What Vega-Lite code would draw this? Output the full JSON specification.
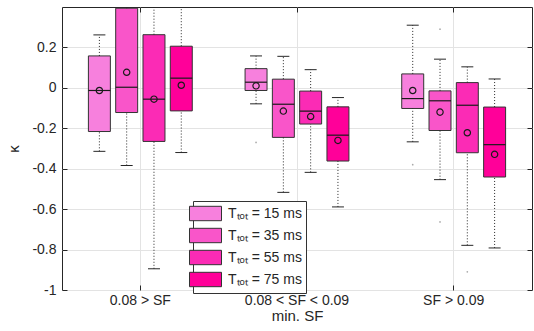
{
  "$schema": "https://vega.github.io/schema/vega-lite/v6.json",
  "autosize": "none",
  "width": 470,
  "height": 283,
  "padding": {"left": 62, "top": 7, "right": 2, "bottom": 41},
  "datasets": {
    "boxes": [
      {"sf": "0.08 > SF", "T": "Tₜₒₜ = 15 ms", "lo": -0.314, "q1": -0.216, "med": -0.013, "q3": 0.158, "hi": 0.262, "mean": -0.013},
      {"sf": "0.08 > SF", "T": "Tₜₒₜ = 35 ms", "lo": -0.384, "q1": -0.122, "med": 0.003, "q3": 0.394, "hi": 0.45, "mean": 0.077},
      {"sf": "0.08 > SF", "T": "Tₜₒₜ = 55 ms", "lo": -0.895, "q1": -0.265, "med": -0.056, "q3": 0.263, "hi": 0.45, "mean": -0.056},
      {"sf": "0.08 > SF", "T": "Tₜₒₜ = 75 ms", "lo": -0.32, "q1": -0.114, "med": 0.048, "q3": 0.206, "hi": 0.45, "mean": 0.013},
      {"sf": "0.08 < SF < 0.09", "T": "Tₜₒₜ = 15 ms", "lo": -0.079, "q1": -0.013, "med": 0.028, "q3": 0.095, "hi": 0.158, "mean": 0.01},
      {"sf": "0.08 < SF < 0.09", "T": "Tₜₒₜ = 35 ms", "lo": -0.517, "q1": -0.245, "med": -0.081, "q3": 0.043, "hi": 0.156, "mean": -0.115},
      {"sf": "0.08 < SF < 0.09", "T": "Tₜₒₜ = 55 ms", "lo": -0.418, "q1": -0.179, "med": -0.115, "q3": -0.016, "hi": 0.09, "mean": -0.142},
      {"sf": "0.08 < SF < 0.09", "T": "Tₜₒₜ = 75 ms", "lo": -0.589, "q1": -0.362, "med": -0.234, "q3": -0.094, "hi": -0.048, "mean": -0.26},
      {"sf": "SF > 0.09", "T": "Tₜₒₜ = 15 ms", "lo": -0.267, "q1": -0.102, "med": -0.053, "q3": 0.069, "hi": 0.31, "mean": -0.013},
      {"sf": "SF > 0.09", "T": "Tₜₒₜ = 35 ms", "lo": -0.454, "q1": -0.211, "med": -0.064, "q3": -0.015, "hi": 0.142, "mean": -0.12},
      {"sf": "SF > 0.09", "T": "Tₜₒₜ = 55 ms", "lo": -0.779, "q1": -0.321, "med": -0.086, "q3": 0.026, "hi": 0.104, "mean": -0.222},
      {"sf": "SF > 0.09", "T": "Tₜₒₜ = 75 ms", "lo": -0.792, "q1": -0.441, "med": -0.281, "q3": -0.095, "hi": 0.044, "mean": -0.329}
    ],
    "outliers": [
      {"sf": "0.08 < SF < 0.09", "T": "Tₜₒₜ = 15 ms", "v": -0.27},
      {"sf": "SF > 0.09", "T": "Tₜₒₜ = 15 ms", "v": -0.38},
      {"sf": "SF > 0.09", "T": "Tₜₒₜ = 35 ms", "v": 0.29},
      {"sf": "SF > 0.09", "T": "Tₜₒₜ = 35 ms", "v": -0.663},
      {"sf": "SF > 0.09", "T": "Tₜₒₜ = 55 ms", "v": -0.91}
    ]
  },
  "config": {
    "font": "Liberation Sans",
    "view": {"stroke": "#262626", "strokeWidth": 1},
    "axis": {
      "domain": false,
      "labelColor": "#262626",
      "titleColor": "#262626",
      "tickColor": "#262626",
      "gridColor": "#e3e3e3",
      "labelFontSize": 14,
      "titleFontSize": 15,
      "titleFontWeight": "normal"
    },
    "legend": {
      "strokeColor": "#333333",
      "fillColor": "white",
      "padding": 4,
      "symbolType": "M-2,-0.9H2V0.9H-2Z",
      "symbolSize": 256,
      "symbolStrokeColor": "#333333",
      "symbolStrokeWidth": 1,
      "symbolOpacity": 1,
      "labelFontSize": 14,
      "labelColor": "#262626",
      "labelOffset": 14,
      "rowPadding": 3
    }
  },
  "resolve": {"axis": {"x": "independent", "y": "independent"}},
  "layer": [
    {
      "data": {"name": "boxes"},
      "mark": {"type": "bar", "stroke": "#333333", "strokeWidth": 1, "clip": true},
      "encoding": {
        "x": {"field": "sf", "type": "nominal", "sort": ["0.08 > SF", "0.08 < SF < 0.09", "SF > 0.09"],
              "scale": {"paddingInner": 0, "paddingOuter": 0},
              "axis": {"orient": "bottom", "title": "min. SF", "labelAngle": 0, "grid": true, "tickSize": -5, "labelPadding": 8, "titlePadding": 1}},
        "xOffset": {"field": "T", "type": "nominal", "scale": {"paddingInner": 0.195, "paddingOuter": 0.967}},
        "y": {"field": "q1", "type": "quantitative", "scale": {"domain": [-1, 0.4], "nice": false, "zero": false},
              "axis": {"orient": "left", "title": "κ", "values": [-1, -0.8, -0.6, -0.4, -0.2, 0, 0.2], "labelExpr": "'' + datum.value", "grid": true, "tickSize": -5, "labelPadding": 11, "titlePadding": 10}},
        "y2": {"field": "q3"},
        "color": {"field": "T", "type": "nominal",
                  "scale": {"range": ["#f780dd", "#f955c9", "#fb2bb5", "#ff0099"]},
                  "legend": {"orient": "none", "legendX": 131, "legendY": 194, "title": null}}
      }
    },
    {
      "data": {"name": "boxes"},
      "mark": {"type": "rule", "color": "#262626", "strokeWidth": 1, "strokeDash": [1, 2], "clip": true},
      "encoding": {
        "x": {"field": "sf", "type": "nominal", "sort": ["0.08 > SF", "0.08 < SF < 0.09", "SF > 0.09"], "axis": null},
        "xOffset": {"field": "T", "type": "nominal"},
        "y": {"field": "q3", "type": "quantitative", "axis": null},
        "y2": {"field": "hi"}
      }
    },
    {
      "data": {"name": "boxes"},
      "mark": {"type": "rule", "color": "#262626", "strokeWidth": 1, "strokeDash": [1, 2], "clip": true},
      "encoding": {
        "x": {"field": "sf", "type": "nominal", "sort": ["0.08 > SF", "0.08 < SF < 0.09", "SF > 0.09"], "axis": null},
        "xOffset": {"field": "T", "type": "nominal"},
        "y": {"field": "lo", "type": "quantitative", "axis": null},
        "y2": {"field": "q1"}
      }
    },
    {
      "data": {"name": "boxes"},
      "mark": {"type": "tick", "color": "#262626", "thickness": 1, "size": 12, "clip": true, "opacity": 1},
      "encoding": {
        "x": {"field": "sf", "type": "nominal", "sort": ["0.08 > SF", "0.08 < SF < 0.09", "SF > 0.09"], "axis": null},
        "xOffset": {"field": "T", "type": "nominal"},
        "y": {"field": "hi", "type": "quantitative", "axis": null}
      }
    },
    {
      "data": {"name": "boxes"},
      "mark": {"type": "tick", "color": "#262626", "thickness": 1, "size": 12, "clip": true, "opacity": 1},
      "encoding": {
        "x": {"field": "sf", "type": "nominal", "sort": ["0.08 > SF", "0.08 < SF < 0.09", "SF > 0.09"], "axis": null},
        "xOffset": {"field": "T", "type": "nominal"},
        "y": {"field": "lo", "type": "quantitative", "axis": null}
      }
    },
    {
      "data": {"name": "boxes"},
      "mark": {"type": "tick", "color": "#1a1a1a", "thickness": 1.2, "size": 22, "opacity": 1},
      "encoding": {
        "x": {"field": "sf", "type": "nominal", "sort": ["0.08 > SF", "0.08 < SF < 0.09", "SF > 0.09"],
              "axis": {"orient": "top", "labels": false, "title": null, "grid": false, "tickSize": -5}},
        "xOffset": {"field": "T", "type": "nominal"},
        "y": {"field": "med", "type": "quantitative",
              "axis": {"orient": "right", "labels": false, "title": null, "grid": false, "tickSize": -5, "values": [-1, -0.8, -0.6, -0.4, -0.2, 0, 0.2]}}
      }
    },
    {
      "data": {"name": "boxes"},
      "mark": {"type": "point", "shape": "circle", "filled": false, "stroke": "#1a1a1a", "strokeWidth": 1.2, "size": 40, "opacity": 1},
      "encoding": {
        "x": {"field": "sf", "type": "nominal", "sort": ["0.08 > SF", "0.08 < SF < 0.09", "SF > 0.09"], "axis": null},
        "xOffset": {"field": "T", "type": "nominal"},
        "y": {"field": "mean", "type": "quantitative", "axis": null}
      }
    },
    {
      "data": {"name": "outliers"},
      "mark": {"type": "point", "shape": "circle", "filled": true, "color": "#aaaaaa", "size": 3, "opacity": 1},
      "encoding": {
        "x": {"field": "sf", "type": "nominal", "sort": ["0.08 > SF", "0.08 < SF < 0.09", "SF > 0.09"], "axis": null},
        "xOffset": {"field": "T", "type": "nominal"},
        "y": {"field": "v", "type": "quantitative", "axis": null}
      }
    }
  ]
}
